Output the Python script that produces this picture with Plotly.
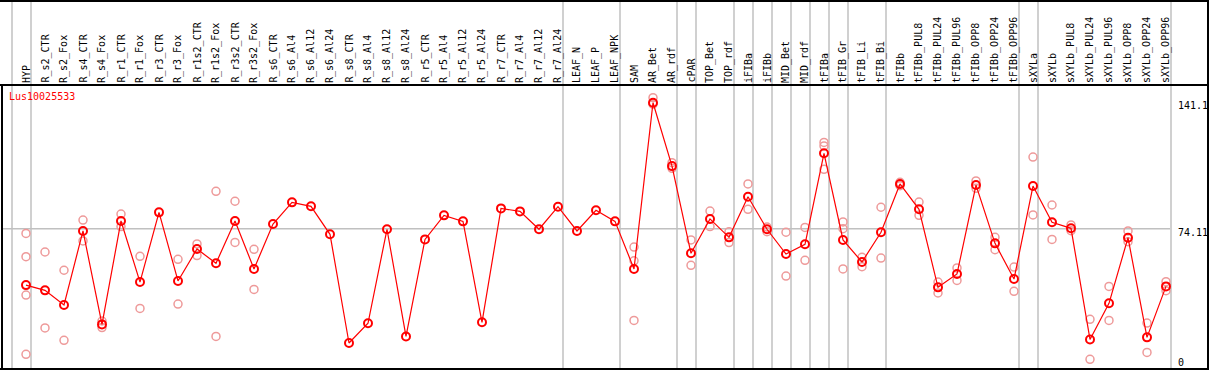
import plotly.graph_objects as go

categories = ["HYP", "R_s2_CTR", "R_s2_Fox", "R_s4_CTR", "R_s4_Fox", "R_r1_CTR", "R_r1_Fox",
              "R_r3_CTR", "R_r3_Fox", "R_r1s2_CTR", "R_r1s2_Fox", "R_r3s2_CTR", "R_r3s2_Fox",
              "R_s6_CTR", "R_s6_Al4", "R_s6_Al12", "R_s6_Al24", "R_s8_CTR", "R_s8_Al4",
              "R_s8_Al12", "R_s8_Al24", "R_r5_CTR", "R_r5_Al4", "R_r5_Al12", "R_r5_Al24",
              "R_r7_CTR", "R_r7_Al4", "R_r7_Al12", "R_r7_Al24", "LEAF_N", "LEAF_P", "LEAF_NPK",
              "SAM", "AR_Bet", "AR_rdf", "cPAR", "TOP_Bet", "TOP_rdf", "iFIBa", "iFIBb",
              "MID_Bet", "MID_rdf", "tFIBa", "tFIB_Gr", "tFIB_Li", "tFIB_Bi", "tFIBb",
              "tFIBb_PUL8", "tFIBb_PUL24", "tFIBb_PUL96", "tFIBb_OPP8", "tFIBb_OPP24",
              "tFIBb_OPP96", "sXYLa", "sXYLb", "sXYLb_PUL8", "sXYLb_PUL24", "sXYLb_PUL96",
              "sXYLb_OPP8", "sXYLb_OPP24", "sXYLb_OPP96"]

means = [44.1, 41.3, 33.5, 72.9, 23.2, 78.2, 45.7, 82.8, 46.3, 63.3, 55.7, 78.2, 52.7,
         76.6, 88.1, 86.0, 71.1, 13.3, 23.8, 73.8, 16.8, 68.4, 81.2, 78.0, 24.3,
         84.9, 83.3, 73.8, 85.8, 72.9, 83.9, 78.0, 52.7, 141.1, 107.4, 61.0, 79.3,
         69.5, 91.1, 73.8, 60.6, 65.8, 114.2, 68.1, 56.4, 72.2, 97.9, 84.4, 42.9, 50.0,
         97.3, 66.3, 47.3, 96.8, 77.5, 74.3, 15.2, 34.4, 69.3, 16.3, 43.4]

replicates = [
    [71.6, 59.2, 38.8, 7.3], [61.7, 21.3], [52.0, 14.7], [78.7, 67.6], [25.0, 21.5],
    [81.9, 75.2], [59.4, 31.7], [], [57.8, 34.0], [66.0, 59.8], [94.0, 16.8],
    [88.7, 66.8], [63.1, 41.8], [], [], [], [], [], [], [], [], [], [], [], [],
    [], [], [], [], [], [], [], [64.3, 57.0, 25.3], [143.8, 140.3], [109.2, 106.2],
    [68.1, 54.6], [83.5, 75.2], [72.5, 66.7], [97.9, 84.4], [75.0, 72.5], [72.2, 48.9],
    [74.8, 57.3], [120.0, 118.1, 105.7], [77.7, 74.1, 52.7], [58.9, 53.9], [85.5, 58.5],
    [98.8, 97.0], [88.3, 81.2], [45.7, 39.9], [53.2, 46.6], [99.5, 95.6], [69.5, 62.9],
    [53.7, 40.8], [112.2, 81.4], [86.7, 68.4], [76.1, 73.0], [25.9, 4.6], [43.4, 25.3],
    [72.9, 67.2], [23.9, 8.3], [45.9, 41.1]]

group_ends = [-1, 0, 28, 31, 34, 35, 37, 38, 39, 40, 41, 42, 43, 45, 52, 53, 60]
axis_labels = ["141.1", "74.11", "0"]
axis_values = [141.1, 74.11, 0]
gene = "Lus10025533"

W, H = 1209, 370
X0, DX = 26.0, 19.0           # pixel of first category, spacing
Y0, DY = 368.0, 1.88          # pixel of value 0, pixels per unit


def px_x(p):
    return (p - X0) / DX


def px_y_paper(p):
    return 1 - p / H


idx = list(range(len(categories)))
rx, ry = [], []
for i, reps in enumerate(replicates):
    for v in reps:
        rx.append(i)
        ry.append(v)

fig = go.Figure()
fig.add_trace(go.Scatter(x=rx, y=ry, mode="markers", hoverinfo="skip",
                         marker=dict(symbol="circle-open", size=8, color="#ee9a9a",
                                     line=dict(width=1.5, color="#ee9a9a"))))
fig.add_trace(go.Scatter(x=idx, y=means, mode="lines+markers",
                         line=dict(color="#ff0000", width=1.2),
                         marker=dict(symbol="circle-open", size=8, color="#ff0000",
                                     line=dict(width=2, color="#ff0000"))))

shapes = []
for g in group_ends:
    xg = g + 5.0 / DX
    shapes.append(dict(type="line", xref="x", yref="paper", x0=xg, x1=xg, y0=0, y1=1,
                       line=dict(color="#c0c0c0", width=1.5), layer="below"))
# horizontal reference line at mid value
shapes.append(dict(type="line", xref="x", yref="y", x0=px_x(2), x1=px_x(1170),
                   y0=axis_values[1], y1=axis_values[1],
                   line=dict(color="#c0c0c0", width=1.5), layer="below"))
# black frame lines
black = dict(color="#000000", width=2)
shapes.append(dict(type="line", xref="paper", yref="paper", x0=0, x1=1,
                   y0=px_y_paper(85), y1=px_y_paper(85), line=black))
shapes.append(dict(type="line", xref="paper", yref="paper", x0=0, x1=1,
                   y0=px_y_paper(1), y1=px_y_paper(1), line=black))
shapes.append(dict(type="line", xref="paper", yref="paper", x0=0, x1=1,
                   y0=px_y_paper(369), y1=px_y_paper(369), line=black))
shapes.append(dict(type="line", xref="paper", yref="paper", x0=2 / W, x1=2 / W,
                   y0=px_y_paper(85), y1=px_y_paper(369), line=black))
shapes.append(dict(type="line", xref="paper", yref="paper", x0=1 - 1 / W, x1=1 - 1 / W,
                   y0=px_y_paper(0), y1=px_y_paper(369), line=black))

font = dict(family="DejaVu Sans Mono", size=10, color="#000000")
annotations = []
for i, c in enumerate(categories):
    annotations.append(dict(x=i, xref="x", y=px_y_paper(84), yref="paper", text=c,
                            textangle=-90, showarrow=False, xanchor="center",
                            yanchor="bottom", font=font, borderpad=0))
annotations.append(dict(x=8 / W, xref="paper", y=px_y_paper(90), yref="paper", text=gene,
                        showarrow=False, xanchor="left", yanchor="top",
                        font=dict(family="DejaVu Sans Mono", size=10, color="#ff0000"),
                        borderpad=0))
label_tops = [99, 226, 356]
for lab, top in zip(axis_labels, label_tops):
    annotations.append(dict(x=1177 / W, xref="paper", y=px_y_paper(top), yref="paper",
                            text=lab, showarrow=False, xanchor="left", yanchor="top",
                            font=font, borderpad=0))

fig.update_layout(
    width=W, height=H, margin=dict(l=0, r=0, t=0, b=0),
    paper_bgcolor="white", plot_bgcolor="white", showlegend=False,
    xaxis=dict(range=[px_x(0), px_x(W)], showgrid=False, zeroline=False,
               showticklabels=False, visible=False),
    yaxis=dict(range=[(Y0 - H) / DY, Y0 / DY], showgrid=False, zeroline=False,
               showticklabels=False, visible=False),
    shapes=shapes, annotations=annotations,
)

fig.write_html("out.html", config={"displayModeBar": False},
               post_script="document.body.style.margin='0';"
                           "document.body.style.overflow='hidden';")
